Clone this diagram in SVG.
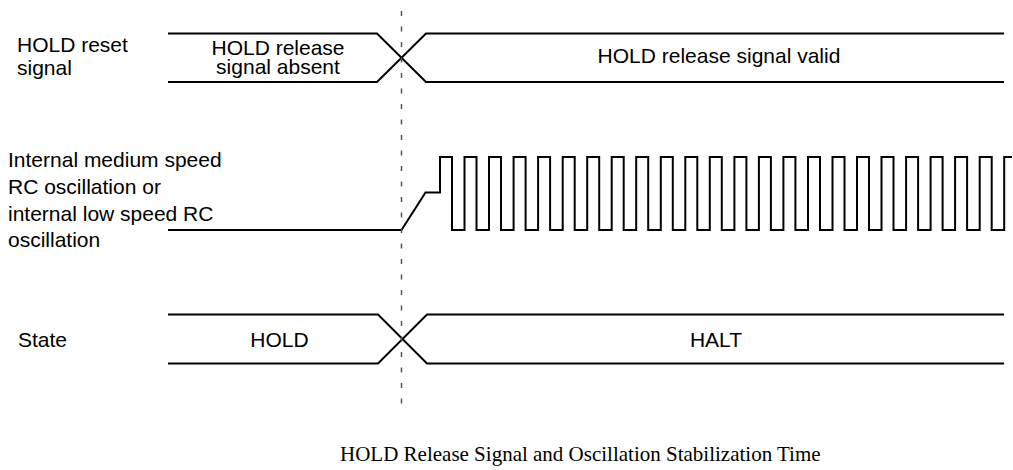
<svg xmlns="http://www.w3.org/2000/svg" width="1013" height="470" viewBox="0 0 1013 470">
<style>
.lbl{font-family:"Liberation Sans",Arial,Helvetica,sans-serif;font-size:21px;fill:#000}
.mid{text-anchor:middle}
.cap{font-family:"Liberation Serif","Times New Roman",serif;font-size:21px;fill:#000}
.sig{fill:none;stroke:#000;stroke-width:2;stroke-linejoin:miter}
.dash{fill:none;stroke:#555;stroke-width:1.5;stroke-dasharray:5 10.5}
</style>
<rect width="1013" height="470" fill="#fff"/>
<g id="label-hold-reset">
<text class="lbl" x="17" y="52">HOLD reset</text>
<text class="lbl" x="17" y="75">signal</text>
</g>
<g id="label-osc">
<text class="lbl" x="8" y="167">Internal medium speed</text>
<text class="lbl" x="8" y="194">RC oscillation or</text>
<text class="lbl" x="8" y="221">internal low speed RC</text>
<text class="lbl" x="8" y="247">oscillation</text>
</g>
<g id="label-state">
<text class="lbl" x="18" y="347">State</text>
</g>
<g id="signal-hold-reset">
<path class="sig" d="M168,33.5 H377 L426,82 H1004"/>
<path class="sig" d="M168,82 H377 L426,33.5 H1004"/>
<text class="lbl mid" x="278" y="55">HOLD release</text>
<text class="lbl mid" x="278" y="74">signal absent</text>
<text class="lbl mid" x="719" y="62.5">HOLD release signal valid</text>
</g>
<g id="signal-osc">
<path class="sig" d="M168,230 H401.5 L425.5,192.5 H440 V157 H452 V230 H464.5 V157 H476.5 V230 H489 V157 H501 V230 H513.6 V157 H525.6 V230 H538.1 V157 H550.1 V230 H562.7 V157 H574.7 V230 H587.2 V157 H599.2 V230 H611.7 V157 H623.7 V230 H636.2 V157 H648.2 V230 H660.8 V157 H672.8 V230 H685.3 V157 H697.3 V230 H709.8 V157 H721.8 V230 H734.4 V157 H746.4 V230 H758.9 V157 H770.9 V230 H783.4 V157 H795.4 V230 H808 V157 H820 V230 H832.5 V157 H844.5 V230 H857 V157 H869 V230 H881.5 V157 H893.5 V230 H906.1 V157 H918.1 V230 H930.6 V157 H942.6 V230 H955.1 V157 H967.1 V230 H979.7 V157 H991.7 V230 H1004.2 V157 H1012"/>
</g>
<g id="signal-state">
<path class="sig" d="M168,314.5 H378 L427,363.5 H1004"/>
<path class="sig" d="M168,363.5 H378 L427,314.5 H1004"/>
<text class="lbl mid" x="279.5" y="347">HOLD</text>
<text class="lbl mid" x="716" y="347">HALT</text>
</g>
<g id="connectors">
<line class="dash" x1="401.5" y1="11" x2="401.5" y2="405"/>
</g>
<g id="caption">
<text class="cap" x="340" y="461">HOLD Release Signal and Oscillation Stabilization Time</text>
</g>
</svg>
